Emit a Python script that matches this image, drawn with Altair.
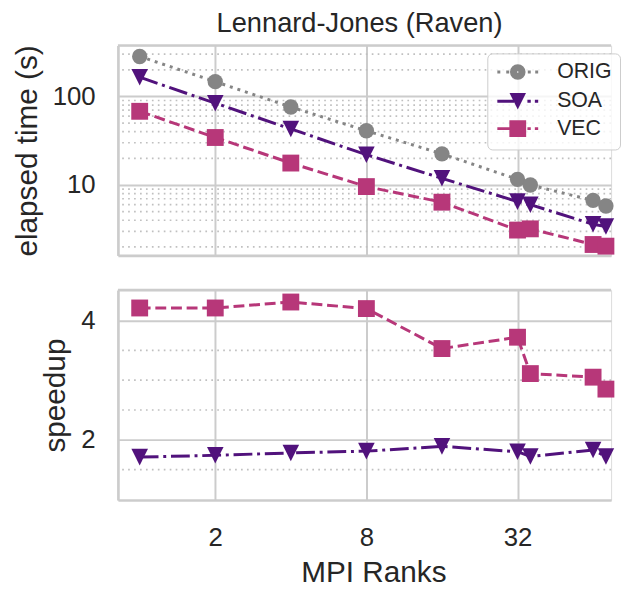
import altair as alt
import pandas as pd

# ---------------- data ----------------
ranks = [1, 2, 4, 8, 16, 32, 36, 64, 72]
series_names = ["ORIG", "SOA", "VEC"]
time_orig = [283, 147, 76, 41, 22.5, 11.6, 10.0, 6.7, 5.8]
time_soa = [165, 84, 43, 22, 11.9, 6.5, 6.0, 3.6, 3.4]
time_vec = [68, 34.4, 17.7, 9.6, 6.4, 3.1, 3.2, 2.13, 2.04]
speedup_soa = [1.71, 1.74, 1.78, 1.81, 1.89, 1.80, 1.72, 1.83, 1.72]
speedup_vec = [4.21, 4.21, 4.31, 4.20, 3.53, 3.72, 3.11, 3.05, 2.85]

x_ticks = [2, 8, 32]
time_major = [10, 100]
time_minor = [2, 3, 4, 5, 6, 7, 8, 9, 20, 30, 40, 50, 60, 70, 80, 90, 200, 300]
speed_major = [2, 4]
speed_minor = [1.5, 2.5, 3, 3.5]

# ---------------- styles ----------------
series_colors = ["#858585", "#51127c", "#b73779"]
line_dashes = [[3, 5], [19, 4.8, 3, 4.8], [11, 4.8]]
marker_shapes = ["circle", "M0,1L-1,-1L1,-1Z", "square"]
marker_sizes = [240, 280, 290]
# legend glyphs: dashed line stub + marker filled by nested outlines (unit = 7.5px)
legend_symbols = [
    "M-2.75,0L-2.35,0M-1.55,0L-1.15,0M1.35,0L1.75,0M2.35,0L2.75,0"
    "M0.85,0A0.85,0.85 0 1,1 -0.85,0A0.85,0.85 0 1,1 0.85,0Z"
    "M0.45,0A0.45,0.45 0 1,1 -0.45,0A0.45,0.45 0 1,1 0.45,0Z"
    "M0.1,0A0.1,0.1 0 1,1 -0.1,0A0.1,0.1 0 1,1 0.1,0Z",
    "M-2.75,0L-0.5,0M1.3,0L1.75,0M2.3,0L2.75,0"
    "M-0.786,-0.91L0.786,-0.91L0,0.662Z"
    "M-0.139,-0.51L0.139,-0.51L0,-0.232Z",
    "M-2.75,0L-0.5,0M1.3,0L1.75,0M2.3,0L2.75,0"
    "M-0.93,-0.93L0.93,-0.93L0.93,0.93L-0.93,0.93Z"
    "M-0.53,-0.53L0.53,-0.53L0.53,0.53L-0.53,0.53Z"
    "M-0.13,-0.13L0.13,-0.13L0.13,0.13L-0.13,0.13Z",
]
TEXT = "#262626"
GRID = "#cccccc"
MINOR = "#c0c0c0"
FONT = "Liberation Sans"
W, H = 498, 212

time_df = pd.DataFrame(
    [
        {"ranks": r, "series": s, "time": t}
        for s, vals in zip(series_names, [time_orig, time_soa, time_vec])
        for r, t in zip(ranks, vals)
    ]
)
speed_df = pd.DataFrame(
    [
        {"ranks": r, "series": s, "speedup": v}
        for s, vals in zip(["SOA", "VEC"], [speedup_soa, speedup_vec])
        for r, v in zip(ranks, vals)
    ]
)

x_scale = alt.Scale(type="log", base=2, domain=[0.819, 75.5], nice=False)
color_scale = alt.Scale(domain=series_names, range=series_colors)
legend_shape_scale = alt.Scale(domain=series_names, range=legend_symbols)

y_top_scale = alt.Scale(type="log", domain=[1.603, 376.4], nice=False)
y_bot_scale = alt.Scale(domain=[0.99, 4.51], zero=False, nice=False)

common_axis = dict(
    ticks=False, domainColor=GRID, domainWidth=2.7, gridColor=GRID, gridWidth=2,
    labelFont=FONT, labelColor=TEXT, titleFont=FONT, titleColor=TEXT,
    titleFontWeight="normal",
)

x_axis_top = alt.Axis(values=x_ticks, labels=False, grid=True, title=None, **common_axis)
x_axis_bot = alt.Axis(
    values=x_ticks, format="d", grid=True, labelFontSize=26, labelPadding=25,
    title="MPI Ranks", titleFontSize=30, titlePadding=7, titleX=258, **common_axis
)
y_axis_top = alt.Axis(
    values=time_major, format="d", grid=True, labelFontSize=26, labelPadding=23,
    title="elapsed time (s)", titleFontSize=30, titlePadding=10, **common_axis
)
y_axis_bot = alt.Axis(
    values=speed_major, format="d", grid=True, labelFontSize=26, labelPadding=23,
    title="speedup", titleFontSize=30, titlePadding=10, **common_axis
)

frame_top = alt.Chart(pd.DataFrame({"a": [0]})).mark_rule(
    color=GRID, strokeWidth=2.7
).encode(x=alt.value(0), x2=alt.value(W), y=alt.value(0))


def panel(df, yfield, yscale, yaxis, ytitle, minor_vals, xaxis, xtitle, names, with_legend):
    X = alt.X("ranks:Q", scale=x_scale, axis=xaxis, title=xtitle)
    Y = alt.Y(f"{yfield}:Q", scale=yscale, axis=yaxis, title=ytitle)
    minor = alt.Chart(pd.DataFrame({"v": minor_vals})).mark_rule(
        color=MINOR, strokeWidth=1.7, strokeDash=[1.7, 4.3]
    ).encode(y=alt.Y("v:Q", scale=yscale, axis=yaxis, title=ytitle))
    layers = [minor, frame_top]
    for s in names:
        i = series_names.index(s)
        layers.append(
            alt.Chart(df).transform_filter(alt.datum.series == s).mark_line(
                strokeWidth=3, color=series_colors[i], strokeDash=line_dashes[i]
            ).encode(x=X, y=Y)
        )
    for s in names:
        i = series_names.index(s)
        layers.append(
            alt.Chart(df).transform_filter(alt.datum.series == s).mark_point(
                filled=True, opacity=1, shape=marker_shapes[i],
                size=marker_sizes[i], color=series_colors[i],
            ).encode(x=X, y=Y)
        )
    if with_legend:
        leg = alt.Legend(
            title=None, orient="none", legendX=373, legendY=8, padding=8,
            symbolSize=225, symbolOffset=12, labelOffset=29, rowPadding=2.6,
            symbolStrokeWidth=3, symbolOpacity=1, labelFontSize=21.5,
            labelFont=FONT, labelColor=TEXT, fillColor="rgba(255,255,255,0.8)",
            strokeColor=GRID, cornerRadius=5,
        )
        legend_layer = alt.Chart(df).transform_filter("false").mark_point(
            filled=False, opacity=1, strokeWidth=3
        ).encode(
            x=X, y=Y,
            color=alt.Color("series:N", scale=color_scale, legend=leg),
            shape=alt.Shape("series:N", scale=legend_shape_scale, legend=leg),
        )
        layers.append(legend_layer)
    return alt.layer(*layers).properties(width=W, height=H)


top = panel(time_df, "time", y_top_scale, y_axis_top, "elapsed time (s)",
            time_minor, x_axis_top, None, series_names, True).properties(
    title=alt.TitleParams(
        "Lennard-Jones (Raven)", fontSize=27.5, font=FONT, color=TEXT,
        fontWeight="normal", anchor="middle", frame="group", dx=-5,
        offset=-21.5, baseline="bottom",
    )
)
bottom = panel(speed_df, "speedup", y_bot_scale, y_axis_bot, "speedup",
               speed_minor, x_axis_bot, "MPI Ranks", ["SOA", "VEC"], False)

chart = alt.vconcat(top, bottom, spacing=31).resolve_scale(
    color="independent", shape="independent",
).resolve_legend(
    color="independent", shape="independent",
).properties(
    padding={"left": 4, "top": -1, "right": 0, "bottom": 0}
).configure_view(stroke=None).configure(font=FONT)

chart.save("out.html", embed_options={"renderer": "svg", "actions": False})
